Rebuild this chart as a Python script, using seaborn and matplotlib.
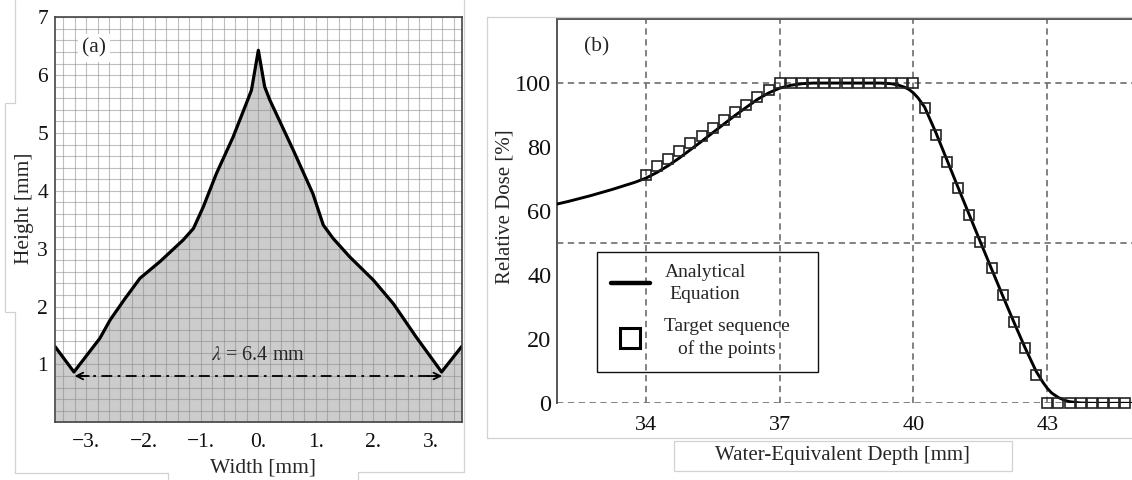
import matplotlib
matplotlib.use("Agg")
import matplotlib.pyplot as plt
from matplotlib.lines import Line2D
from matplotlib.patches import Rectangle
import seaborn as sns
import numpy as np
import pandas as pd

# ---------------- data: panel (a) surface profile ----------------
profile_x = [-3.54, -3.21, -2.76, -2.58, -2.32, -2.06, -1.71, -1.31, -1.13, -0.96,
             -0.73, -0.44, -0.21, -0.12, 0.0, 0.11, 0.20, 0.61, 0.95, 1.13,
             1.30, 1.59, 2.00, 2.35, 2.75, 3.19, 3.54]
profile_y = [1.31, 0.87, 1.45, 1.77, 2.14, 2.49, 2.78, 3.15, 3.35, 3.72,
             4.30, 4.93, 5.51, 5.74, 6.43, 5.80, 5.57, 4.70, 3.95, 3.41,
             3.18, 2.86, 2.46, 2.05, 1.47, 0.87, 1.31]
width_ticks = [-3, -2, -1, 0, 1, 2, 3]
width_tick_labels = ["\u22123.", "\u22122.", "\u22121.", "0.", "1.", "2.", "3."]
height_ticks = [1, 2, 3, 4, 5, 6, 7]
wavelength = 6.4
arrow_height = 0.80

# ---------------- data: panel (b) depth dose ----------------
curve_depth = [32.0, 32.25, 32.5, 32.75, 33.0, 33.25, 33.5, 33.75, 34.0, 34.25,
               34.5, 34.75, 35.0, 35.25, 35.5, 35.75, 36.0, 36.25, 36.5, 36.75,
               37.0, 37.25, 37.5, 37.75, 38.0, 38.5, 39.0, 39.25, 39.5, 39.65,
               39.8, 39.9, 40.0, 40.1, 40.25, 40.5, 40.75, 41.0, 41.25, 41.5,
               41.75, 42.0, 42.25, 42.5, 42.75, 42.9, 43.0, 43.1, 43.25, 43.4,
               43.5, 43.75, 44.0, 45.0]
curve_dose = [62.2, 63.0, 63.9, 64.8, 65.8, 66.8, 67.9, 69.0, 70.3, 72.1,
              74.2, 76.6, 79.2, 81.8, 84.5, 87.2, 89.9, 92.4, 94.9, 96.9,
              98.4, 99.3, 99.8, 100.0, 100.0, 100.0, 100.0, 100.0, 99.8, 99.4,
              98.7, 98.0, 96.9, 95.4, 92.5, 84.6, 76.0, 67.4, 58.9, 50.4,
              42.0, 33.6, 25.4, 17.4, 10.0, 6.6, 4.7, 3.2, 1.8, 0.9,
              0.5, 0.1, 0.0, 0.0]

points_depth = [34.0, 34.25, 34.5, 34.75, 35.0, 35.25, 35.5, 35.75, 36.0, 36.25,
                36.5, 36.75, 37.0, 37.25, 37.5, 37.75, 38.0, 38.25, 38.5, 38.75,
                39.0, 39.25, 39.5, 39.75, 40.0, 40.25, 40.5, 40.75, 41.0, 41.25,
                41.5, 41.75, 42.0, 42.25, 42.5, 42.75, 43.0, 43.25, 43.5, 43.75,
                44.0, 44.25, 44.5, 44.75]
points_dose = [71.4, 74.1, 76.4, 78.8, 81.2, 83.6, 86.0, 88.6, 90.9, 93.3,
               95.7, 97.9, 100.0, 100.0, 100.0, 100.0, 100.0, 100.0, 100.0, 100.0,
               100.0, 100.0, 100.0, 100.0, 100.0, 92.2, 83.8, 75.5, 67.2, 58.8,
               50.5, 42.2, 33.8, 25.5, 17.2, 8.8, 0.0, 0.0, 0.0, 0.0,
               0.0, 0.0, 0.0, 0.0]
depth_ticks = [34, 37, 40, 43]
dose_ticks = [0, 20, 40, 60, 80, 100]
dose_grid = [0, 50, 100]

legend_labels = ["Analytical\nEquation", "Target sequence\nof the points"]

# ---------------- style ----------------
sns.set_theme(style="white")
plt.rcParams["font.family"] = ["Liberation Serif", "DejaVu Serif"]
plt.rcParams["mathtext.fontset"] = "stix"

W, H = 1132, 480
fig = plt.figure(figsize=(W / 100, H / 100), dpi=100)
fig.patch.set_facecolor("white")

def fx(px):
    return px / W

def fy(py):
    return 1 - py / H

deco = "#d2d2d2"

def fline(xs, ys):
    fig.add_artist(Line2D([fx(v) for v in xs], [fy(v) for v in ys],
                          color=deco, lw=0.9, transform=fig.transFigure))

# decorative panel frames from the source layout
fline([15, 15, 5, 5, 15, 15, 168, 168], [0, 103, 103, 312, 312, 473, 473, 480])
fline([358, 358, 464, 464], [480, 472, 472, 0])
fline([1132, 487, 487, 1132], [17.3, 17.3, 438.3, 438.3])
fig.add_artist(Rectangle((fx(674.3), fy(470.7)), fx(1011.7 - 674.3), (470.7 - 440.7) / H,
                         transform=fig.transFigure, fill=False, edgecolor=deco, lw=0.9))

# ---------------- panel (a) ----------------
ax_a = fig.add_axes([fx(55), fy(422.3), fx(461.7 - 55), (422.3 - 17.3) / H])
xlim_a = (-3.54, 3.54)
ax_a.set_xlim(*xlim_a)
ax_a.set_ylim(0, 7)
ax_a.fill_between(profile_x, 0, profile_y, color="#cccccc", zorder=1, lw=0)
ax_a.set_xticks(np.arange(-3.4, 3.41, 0.2), minor=True)
ax_a.set_yticks(np.arange(0.2, 7.0, 0.2), minor=True)
ax_a.grid(which="both", color="#8c8c8c", alpha=0.55, lw=0.8, zorder=2)
ax_a.set_axisbelow(False)
for gl in ax_a.get_xgridlines() + ax_a.get_ygridlines():
    gl.set_zorder(2)
sns.lineplot(x=profile_x, y=profile_y, ax=ax_a, color="black", lw=2.3, zorder=4,
             estimator=None, sort=False)
ax_a.set_xticks(width_ticks)
ax_a.set_xticklabels(width_tick_labels)
ax_a.set_yticks(height_ticks)
ax_a.tick_params(axis="both", which="both", length=0, labelsize=15.5, colors="#111111")
ax_a.tick_params(axis="x", pad=8)
ax_a.tick_params(axis="y", pad=5)
for s in ax_a.spines.values():
    s.set_color("#444444")
    s.set_linewidth(1.2)
    s.set_zorder(5)

half = wavelength / 2
ax_a.plot([-half + 0.05, half - 0.05], [arrow_height, arrow_height], color="black",
          lw=1.3, ls=(0, (6, 3, 1.5, 3)), zorder=5)
for sgn in (-1, 1):
    ax_a.annotate("", xy=(sgn * half, arrow_height), xytext=(sgn * (half - 0.25), arrow_height),
                  arrowprops=dict(arrowstyle="->", color="black", lw=1.3,
                                  shrinkA=0, shrinkB=0), zorder=5)
ax_a.text(0.0, 1.16, r"$\lambda$ = 6.4 mm", ha="center", va="center", fontsize=14.5, zorder=6)
ax_a.text(0.096, 0.924, "(a)", transform=ax_a.transAxes, ha="center", va="center",
          fontsize=15.5, zorder=6,
          bbox=dict(facecolor="white", edgecolor="none", pad=3))
ax_a.set_xlabel("Width [mm]", fontsize=15.5)
ax_a.set_ylabel("Height [mm]", fontsize=15.5)
ax_a.xaxis.label.set_va("center")
ax_a.yaxis.label.set_va("center")
ax_a.xaxis.set_label_coords(0.511, -0.113)
ax_a.yaxis.set_label_coords(-0.074, 0.529)

# ---------------- panel (b) ----------------
ax_b = fig.add_axes([fx(556.7), fy(403.3), fx(1132 - 556.7), (403.3 - 19) / H])
ax_b.set_xlim(32.0, 44.9)
ax_b.set_ylim(0, 120)
grid_kw = dict(color="#777777", lw=1.3, ls=(0, (3.5, 2.5)), zorder=1)
for d in depth_ticks:
    ax_b.axvline(d, **grid_kw)
for g in dose_grid:
    ax_b.axhline(g, **grid_kw)
sns.lineplot(x=curve_depth, y=curve_dose, ax=ax_b, color="black", lw=2.1, zorder=3,
             estimator=None)
sns.lineplot(x=points_depth, y=points_dose, ax=ax_b, estimator=None, marker="s",
             linestyle="", markersize=7.5, markerfacecolor="none",
             markeredgecolor="#222222", markeredgewidth=1.2, clip_on=False, zorder=4)
ax_b.set_xticks(depth_ticks)
ax_b.set_yticks(dose_ticks)
ax_b.tick_params(axis="both", length=0, colors="#111111")
ax_b.tick_params(axis="x", labelsize=16, pad=9)
ax_b.tick_params(axis="y", labelsize=17.5, pad=4)
ax_b.spines["right"].set_visible(False)
ax_b.spines["bottom"].set_visible(False)
for k in ("left", "top"):
    ax_b.spines[k].set_color("#555555")
    ax_b.spines[k].set_linewidth(1.4)
ax_b.text(0.0695, 0.928, "(b)", transform=ax_b.transAxes, ha="center", va="center",
          fontsize=15.5)
ax_b.set_xlabel("Water-Equivalent Depth [mm]", fontsize=15)
ax_b.set_ylabel("Relative Dose [%]", fontsize=15)
ax_b.xaxis.label.set_va("center")
ax_b.yaxis.label.set_va("center")
ax_b.xaxis.set_label_coords(0.496, -0.137)
ax_b.yaxis.set_label_coords(-0.09, 0.511)

# legend
fig.add_artist(Rectangle((fx(597), fy(372)), fx(818 - 597), (372 - 252) / H,
                         transform=fig.transFigure, fill=False, edgecolor="#111111",
                         lw=1.0, zorder=10))
handles = [Line2D([], [], color="black", lw=3.2),
           Line2D([], [], marker="s", ls="", markersize=14, markerfacecolor="none",
                  markeredgecolor="black", markeredgewidth=2.2)]
leg = ax_b.legend(handles, legend_labels, loc="upper left",
                  bbox_to_anchor=(fx(611), fy(264)), bbox_transform=fig.transFigure,
                  frameon=False, fontsize=14, handlelength=2.0, handletextpad=0.75,
                  labelspacing=0.75, borderpad=0, borderaxespad=0)
for t in leg.get_texts():
    t.set_multialignment("center")
    t.set_linespacing(1.4)

fig.savefig("out.png", dpi=100, facecolor="white")
